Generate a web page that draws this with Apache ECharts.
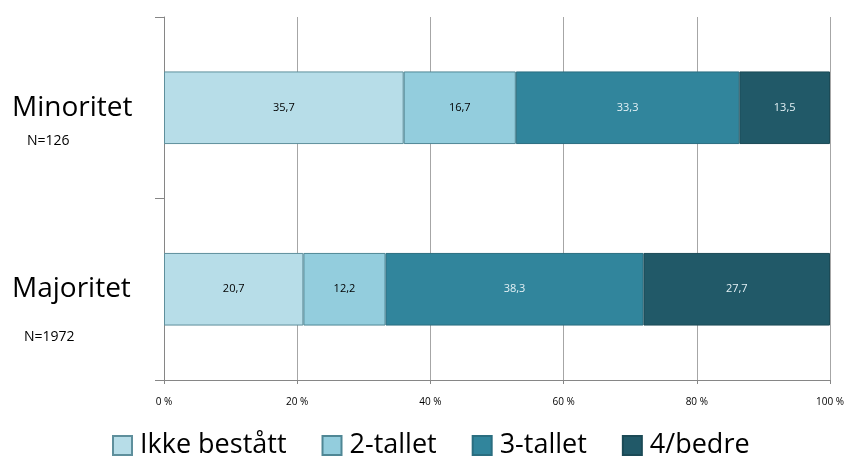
<!DOCTYPE html>
<html>
<head>
<meta charset="utf-8">
<script src="https://cdn.jsdelivr.net/npm/echarts@6/dist/echarts.min.js"></script>
<style>html,body{margin:0;padding:0;background:#fff}#c{width:848px;height:459px}</style>
</head>
<body>
<div id="c"></div>
<script>
const categories = ['Minoritet', 'Majoritet'];
const nLabels = ['N=126', 'N=1972'];
const seriesNames = ['Ikke bestått', '2-tallet', '3-tallet', '4/bedre'];
const ikkeBestatt = [35.7, 20.7];
const tallet2 = [16.7, 12.2];
const tallet3 = [33.3, 38.3];
const bedre4 = [13.5, 27.7];
const xTicks = [0, 20, 40, 60, 80, 100];

const raw = [ikkeBestatt, tallet2, tallet3, bedre4];
const colors = ['#B7DDE8', '#93CDDD', '#31859C', '#215968'];
const borders = ['#5E8F9C', '#4F8795', '#2A6E80', '#1B4A56'];
const labelColors = ['#000000', '#000000', '#E4F1F5', '#E4F1F5'];
const FONT = '"Open Sans", "Noto Sans", sans-serif';

const totals = categories.map((c, i) => raw.reduce((s, arr) => s + arr[i], 0));

const series = raw.map((arr, si) => ({
  name: seriesNames[si],
  type: 'bar',
  stack: 'total',
  barWidth: '40%',
  data: arr.map((v, i) => ({ value: v / totals[i] * 100, raw: v })),
  itemStyle: { color: colors[si], borderColor: borders[si], borderWidth: 1 },
  label: {
    show: true,
    position: 'inside',
    fontFamily: FONT,
    fontSize: 11,
    color: labelColors[si],
    formatter: p => String(p.data.raw).replace('.', ',')
  },
  emphasis: { disabled: true }
}));

const chart = echarts.init(document.getElementById('c'), null, { renderer: 'canvas' });
chart.setOption({
  animation: false,
  backgroundColor: '#ffffff',
  grid: { left: 164, right: 18, top: 17, bottom: 79, containLabel: false },
  xAxis: {
    type: 'value',
    min: 0, max: 100, interval: 20,
    axisLine: { show: true, lineStyle: { color: '#868686', width: 1 } },
    axisTick: { show: true, length: 4, lineStyle: { color: '#868686' } },
    splitLine: { show: true, lineStyle: { color: '#A6A6A6', width: 1 } },
    axisLabel: {
      fontFamily: FONT, fontSize: 10, color: '#000', margin: 17,
      formatter: v => xTicks.includes(v) ? v + ' %' : ''
    }
  },
  yAxis: {
    type: 'category',
    data: categories,
    inverse: true,
    axisLine: { show: true, lineStyle: { color: '#868686', width: 1 } },
    axisTick: { show: true, length: 9, lineStyle: { color: '#868686' } },
    splitLine: { show: false },
    axisLabel: {
      align: 'left',
      margin: 152,
      fontFamily: FONT,
      formatter: (v, i) => i === 0
        ? '{s1| }\n{a|' + v + '}\n{b1|' + nLabels[i] + '}'
        : '{s2| }\n{a|' + v + '}\n{b2|' + nLabels[i] + '}',
      rich: {
        s1: { fontSize: 14, lineHeight: 32, fontFamily: FONT },
        s2: { fontSize: 14, lineHeight: 62, fontFamily: FONT },
        a: { fontSize: 28, lineHeight: 34, color: '#000', fontFamily: FONT },
        b1: { fontSize: 14, lineHeight: 32, color: '#000', padding: [0, 0, 0, 15], fontFamily: FONT },
        b2: { fontSize: 14, lineHeight: 62, color: '#000', padding: [0, 0, 0, 12], fontFamily: FONT }
      }
    }
  },
  legend: {
    top: 427,
    left: 107,
    itemWidth: 19,
    itemHeight: 19,
    itemGap: 35,
    icon: 'rect',
    textStyle: { fontFamily: FONT, fontSize: 27, color: '#000', padding: [0, 0, 0, 3] },
    data: seriesNames
  },
  series: series
});
</script>
</body>
</html>
